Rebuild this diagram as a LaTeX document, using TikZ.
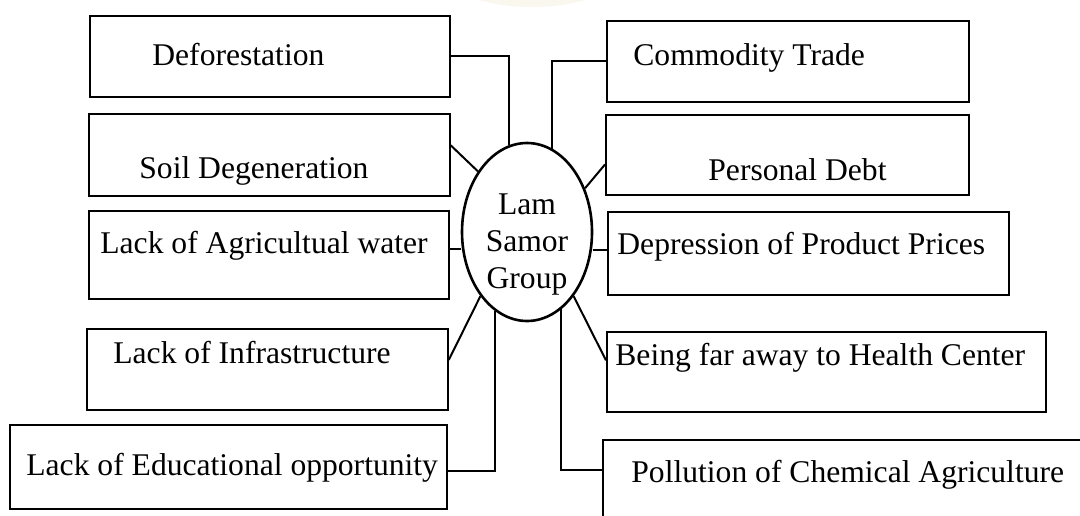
\documentclass[tikz,border=0pt]{standalone}
\usepackage{fontspec}
\setmainfont{Liberation Serif}
\usepackage{tikz}
\usetikzlibrary{shapes,positioning,calc}
\definecolor{watermark}{RGB}{249,247,238}

\begin{document}
\begin{tikzpicture}[x=0.5pt, y=-0.5pt,
  box/.style={rectangle, draw, line width=0.9pt, anchor=north west, inner sep=0pt},
  txt/.style={anchor=base west, inner sep=0pt, font=\fontsize{15.8}{18.5}\selectfont},
  link/.style={line width=1pt}]

\clip (0,0) rectangle (1080,515);
\fill[white] (0,0) rectangle (1080,515);
\fill[watermark] (532,-45) ellipse (105 and 52);

% the group in the middle
\node (lam) [ellipse, draw, line width=1.3pt, minimum width=65pt, minimum height=89pt, inner sep=0pt] at (527,232) {};
\node (lamtxt) [align=center, inner sep=0pt, font=\fontsize{15.8}{18.5}\selectfont] at (527,245) {Lam\\Samor\\Group};

% left side
\node (defo) [box, minimum width=180pt, minimum height=40.5pt] at (89,15) {};
\node (soil) [box, minimum width=180.5pt, minimum height=41pt] at (88,113) {};
\node (water) [box, minimum width=180pt, minimum height=44pt] at (88,210) {};
\node (infra) [box, minimum width=180.5pt, minimum height=40.5pt] at (86,328) {};
\node (edu) [box, minimum width=218.5pt, minimum height=42pt] at (9,424) {};

\node (defotxt) [txt] at (152,65) {Deforestation};
\node (soiltxt) [txt] at (139,178) {Soil Degeneration};
\node (watertxt) [txt] at (100,253) {Lack of Agricultual water};
\node (infratxt) [txt] at (113,363) {Lack of Infrastructure};
\node (edutxt) [txt] at (26,475) {Lack of Educational opportunity};

% right side
\node (trade) [box, minimum width=181pt, minimum height=40.5pt] at (606,20) {};
\node (debt) [box, minimum width=181.5pt, minimum height=40pt] at (605,114) {};
\node (prices) [box, minimum width=200.5pt, minimum height=41.5pt] at (607,211) {};
\node (health) [box, minimum width=219.5pt, minimum height=40pt] at (606,331) {};
\node (pollution) [box, minimum width=249pt, minimum height=60.5pt] at (602,439) {};

\node (tradetxt) [txt] at (633,65) {Commodity Trade};
\node (debttxt) [txt] at (708,180) {Personal Debt};
\node (pricestxt) [txt] at (617,254) {Depression of Product Prices};
\node (healthtxt) [txt] at (615,365) {Being far away to Health Center};
\node (pollutiontxt) [txt] at (631,482) {Pollution of Chemical Agriculture};

% links
\draw[link] (defo.east) -| (lam.102);
\draw[link] (soil.3) -- (lam.129);
\draw[link] (water.2) -- (water.2 -| lam.west);
\draw[link] (infra.3) -- (lam.234);
\draw[link] (edu.-1) -| (lam.248);
\draw[link] (trade.west) -| (lam.73);
\draw[link] (debt.183) -- (lam.37);
\draw[link] (prices.179) -- (prices.179 -| lam.east);
\draw[link] (health.177) -- (lam.306);
\draw[link] (pollution.173) -| (lam.294);

\end{tikzpicture}
\end{document}
